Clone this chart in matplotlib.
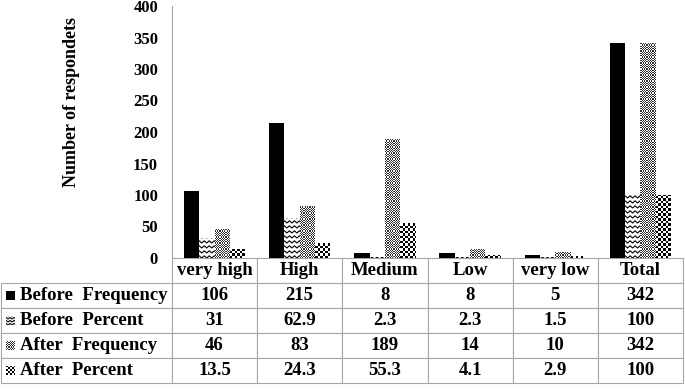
import numpy as np
import matplotlib
matplotlib.use('Agg')
import matplotlib.pyplot as plt
from matplotlib.patches import Rectangle
from matplotlib.collections import LineCollection, PolyCollection

categories = ['very high', 'High', 'Medium', 'Low', 'very low', 'Total']
series_names = ['Before  Frequency', 'Before  Percent', 'After  Frequency', 'After  Percent']
before_freq = [106, 215, 8, 8, 5, 342]
before_pct = [31, 62.9, 2.3, 2.3, 1.5, 100]
after_freq = [46, 83, 189, 14, 10, 342]
after_pct = [13.5, 24.3, 55.3, 4.1, 2.9, 100]
y_ticks = [0, 50, 100, 150, 200, 250, 300, 350, 400]

plt.rcParams['font.family'] = ['Liberation Serif', 'DejaVu Serif']
plt.rcParams['font.weight'] = 'bold'

GRID = '#a6a6a6'


def zigzag_fill(host, patch, trans, sx, sy, step=2.5, amp=2.2, gap=5.0):
    # white patch filled with rows of zigzag lines, clipped to the patch
    x0, y0, x1, y1 = patch.get_bbox().extents
    segs = []
    y = y0 - gap * sy
    while y < y1 + gap * sy:
        xs = np.arange(x0 - step * sx, x1 + 2 * step * sx, step * sx)
        ys = y + amp * sy * (np.arange(len(xs)) % 2)
        segs.append(np.column_stack([xs, ys]))
        y += gap * sy
    lc = LineCollection(segs, colors='black', linewidths=0.8, transform=trans)
    host.add_artist(lc)
    lc.set_clip_path(patch)


def checker_fill(host, patch, trans, sx, sy, cell=2.5, color='black'):
    x0, y0, x1, y1 = patch.get_bbox().extents
    cw, ch = cell * sx, cell * sy
    polys = []
    nx = int((x1 - x0) / cw) + 2
    ny = int((y1 - y0) / ch) + 2
    for i in range(nx):
        for j in range(ny):
            if (i + j) % 2 == 0:
                xa, ya = x0 + i * cw, y0 + j * ch
                polys.append([(xa, ya), (xa + cw, ya), (xa + cw, ya + ch), (xa, ya + ch)])
    pc = PolyCollection(polys, facecolors=color, edgecolors='none', transform=trans)
    host.add_artist(pc)
    pc.set_clip_path(patch)


fig = plt.figure(figsize=(6.85, 3.89), dpi=100)
ax_left, ax_right = 172 / 685, 683 / 685
ax_bottom, ax_top = 1 - 258 / 389, 1 - 6 / 389
ax = fig.add_axes([ax_left, ax_bottom, ax_right - ax_left, ax_top - ax_bottom])

x = np.arange(len(categories))
w = 0.18
ax.set_xlim(-0.5, len(categories) - 0.5)
ax.set_ylim(0, 400)

sx = len(categories) / 511
sy = 400 / 252

bars_bf = ax.bar(x - 1.5 * w, before_freq, w, color='black', linewidth=0)
bars_bp = ax.bar(x - 0.5 * w, before_pct, w, color='white', linewidth=0)
bars_af = ax.bar(x + 0.5 * w, after_freq, w, color='white', linewidth=0)
bars_ap = ax.bar(x + 1.5 * w, after_pct, w, color='white', linewidth=0)

for b in bars_bp:
    zigzag_fill(ax, b, ax.transData, sx, sy)
for b in bars_af:
    checker_fill(ax, b, ax.transData, sx, sy, cell=1.2, color='#303030')
for b in bars_ap:
    checker_fill(ax, b, ax.transData, sx, sy, cell=2.5, color='black')

ax.set_yticks(y_ticks)
ax.set_xticks([])
ax.tick_params(axis='y', length=0, pad=10, labelsize=12)
for lbl in ax.get_yticklabels():
    lbl.set_fontweight('bold')
for s in ['top', 'right', 'bottom']:
    ax.spines[s].set_visible(False)
ax.spines['left'].set_color(GRID)
ax.spines['left'].set_linewidth(0.8)

fig.text(72 / 685, 1 - 102 / 389, 'Number of respondets', rotation=90,
         ha='center', va='center', fontsize=13, fontweight='bold')

# data table below the axes; first column holds the series names
cell_text = [[name] + [f'{v:g}' for v in row]
             for name, row in zip(series_names, (before_freq, before_pct, after_freq, after_pct))]
label_w = 171 / 511
tab_h = 125 / 252
col_w = [label_w] + [1 / len(categories)] * len(categories)
table = ax.table(cellText=cell_text, colLabels=[''] + categories, colWidths=col_w,
                 cellLoc='center', bbox=[-label_w, -tab_h, 1 + label_w, tab_h])
table.auto_set_font_size(False)
table.set_fontsize(13.5)
for (r, c), cell in table.get_celld().items():
    cell.set_edgecolor(GRID)
    cell.set_linewidth(0.8)
    cell.get_text().set_fontweight('bold')
    if c == 0:
        cell.get_text().set_horizontalalignment('left')
        cell.PAD = 0.11
    if r == 0 and c == 0:
        cell.set_linewidth(0)

# legend keys in the row label cells
row_h = (ax_top - ax_bottom) * tab_h / 5
fx, fy = 1 / 685, 1 / 389
for i in range(4):
    cy = ax_bottom - (i + 1.5) * row_h
    key = Rectangle((6 * fx, cy - 4.5 * fy), 9 * fx, 9 * fy, transform=fig.transFigure,
                    facecolor='black' if i == 0 else 'white', edgecolor='none')
    fig.add_artist(key)
    if i == 1:
        zigzag_fill(fig, key, fig.transFigure, fx, fy, step=2, amp=1.5, gap=3)
    elif i == 2:
        checker_fill(fig, key, fig.transFigure, fx, fy, cell=1.2, color='#303030')
    elif i == 3:
        checker_fill(fig, key, fig.transFigure, fx, fy, cell=2, color='black')

fig.savefig('out.png', dpi=100)
